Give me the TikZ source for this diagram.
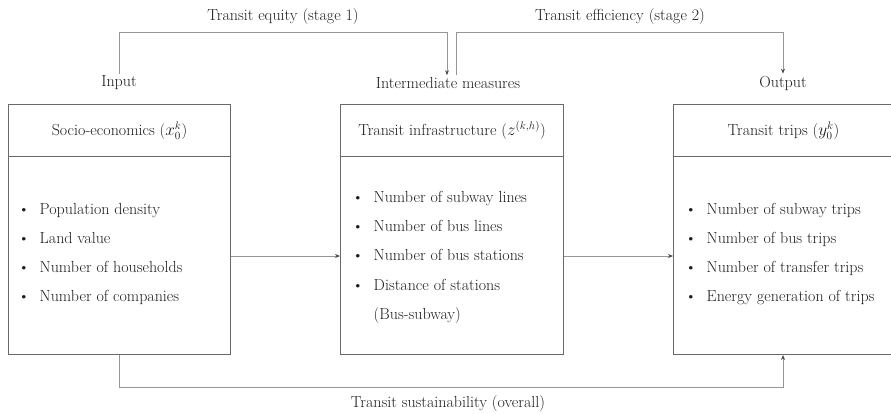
\documentclass[tikz,border=0pt]{standalone}
\usetikzlibrary{arrows.meta,positioning}

\definecolor{boxline}{RGB}{105,105,105}
\definecolor{connline}{RGB}{150,150,150}
\definecolor{ink}{RGB}{30,30,30}

\tikzset{
  every node/.style={font=\fontsize{16}{19.2}\selectfont, text=ink},
  box/.style={draw=boxline, line width=1pt, rectangle, inner sep=0pt,
              minimum width=222pt, anchor=north west},
  headbox/.style={box, minimum height=52pt},
  bodybox/.style={box, minimum height=198pt},
  stagelabel/.style={inner sep=2pt},
  conn/.style={draw=connline, line width=0.8pt},
  arr/.style={-{Stealth[length=5pt,width=4pt,color=ink!80]}},
  itemlist/.style={anchor=west, inner sep=0pt, align=left}
}

\newcommand{\itemrows}[1]{%
  \begin{tabular}{@{}l@{\hspace{10pt}}l@{}}#1\end{tabular}}

\begin{document}
\begin{tikzpicture}[x=1pt,y=-1pt]
  \useasboundingbox (0,0) rectangle (891,413);

  % rails for the bracket connectors
  \coordinate (toprail) at (0,32);
  \coordinate (botrail) at (0,387);
  \coordinate (midrow) at (0,256);

  % column titles
  \node[stagelabel] (inlab)  at (119,83) {Input};
  \node[stagelabel] (midlab) at (448,83) {Intermediate measures};
  \node[stagelabel] (outlab) at (783,83) {Output};

  % input column
  \node[headbox] (inhead) at (8,104) {Socio-economics ($x_0^k$)};
  \node[bodybox] (inbody) at (8,156) {};
  \node[itemlist] (inlist) at (18,254) {\itemrows{%
    \textbullet & Population density\\[10pt]
    \textbullet & Land value\\[10pt]
    \textbullet & Number of households\\[10pt]
    \textbullet & Number of companies}};

  % intermediate column
  \node[headbox, minimum width=223pt] (midhead) at (340,104) {Transit infrastructure ($z^{(k,h)}$)};
  \node[bodybox, minimum width=223pt] (midbody) at (340,156) {};
  \node[itemlist] (midlist) at (352,257) {\itemrows{%
    \textbullet & Number of subway lines\\[10pt]
    \textbullet & Number of bus lines\\[10pt]
    \textbullet & Number of bus stations\\[10pt]
    \textbullet & Distance of stations\\[10pt]
                & (Bus-subway)}};

  % output column
  \node[headbox, minimum width=220pt] (outhead) at (673,104) {Transit trips ($y_0^k$)};
  \node[bodybox, minimum width=220pt] (outbody) at (673,156) {};
  \node[itemlist] (outlist) at (685,254) {\itemrows{%
    \textbullet & Number of subway trips\\[10pt]
    \textbullet & Number of bus trips\\[10pt]
    \textbullet & Number of transfer trips\\[10pt]
    \textbullet & Energy generation of trips}};

  % flow between the columns
  \draw[conn, arr] (inbody.east |- midrow) -- (midbody.west |- midrow);
  \draw[conn, arr] (midbody.east |- midrow) -- (outbody.west |- midrow);

  % stage 1: input -> intermediate measures
  \draw[conn, arr] (inlab.north) |- (toprail -| midlab.north)
    ++(-1,0) coordinate (eqend) (inlab.north |- toprail) -- (eqend)
    -- ([xshift=-1pt]midlab.north);
  \node[stagelabel] (eqlab) at (283,17) {Transit equity (stage 1)};

  % stage 2: intermediate measures -> output
  \draw[conn, arr] ([xshift=8pt]midlab.north) |- (toprail -| outlab.north)
    -- (outlab.north);
  \node[stagelabel] (efflab) at (620,17) {Transit efficiency (stage 2)};

  % overall: input -> output
  \draw[conn, arr] (inlab.north |- inbody.south) |- (botrail -| outlab.north)
    -- (outlab.north |- outbody.south);
  \node[stagelabel] (suslab) at (448,403) {Transit sustainability (overall)};
\end{tikzpicture}
\end{document}
